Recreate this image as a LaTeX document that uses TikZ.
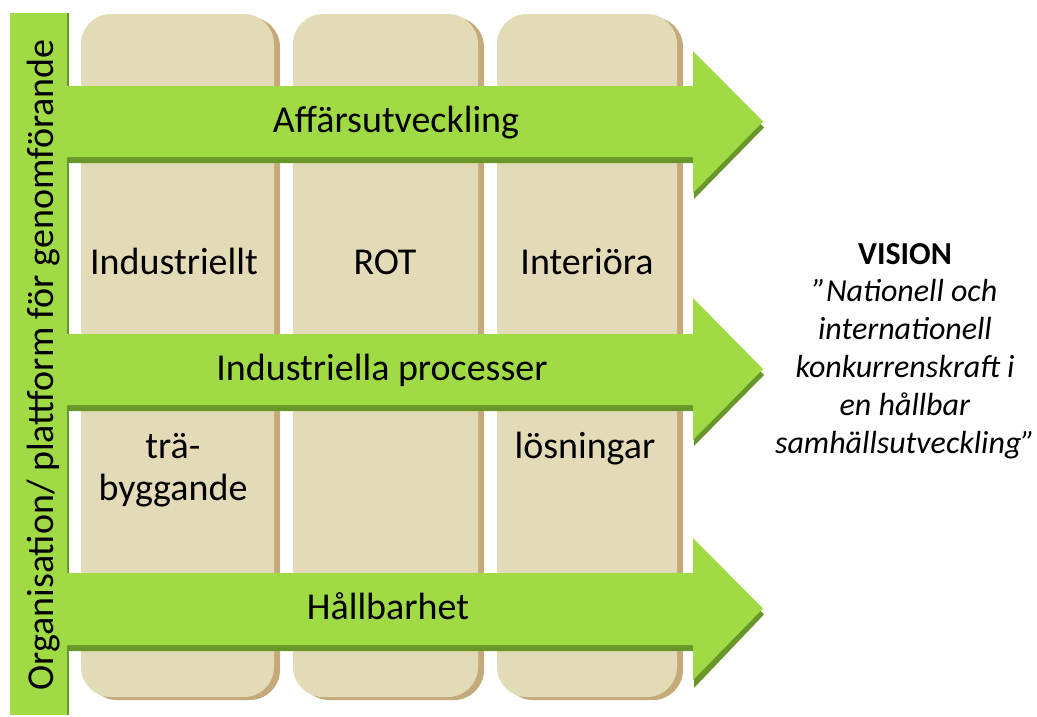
\documentclass[tikz,border=0pt]{standalone}
\usepackage{fontspec}
\setmainfont{Carlito}
\usepackage{tikz}
\definecolor{leaf}{RGB}{160,219,70}
\definecolor{leafdark}{RGB}{104,150,40}
\definecolor{sand}{RGB}{227,219,183}
\definecolor{sanddark}{RGB}{196,170,122}
\tikzset{column/.style = {fill=sand, rounded corners=30pt, minimum height=683pt, inner sep=0pt}}
\tikzset{columnshadow/.style = {fill=sanddark, rounded corners=30pt, minimum height=683pt, inner sep=0pt}}
\tikzset{arrowbody/.style = {fill=leaf}}
\tikzset{arrowshadow/.style = {fill=leafdark}}
\tikzset{label/.style = {font=\fontsize{38}{39}\selectfont, inner sep=0pt, align=center, anchor=base}}

\begin{document}
\begin{tikzpicture}[x=1pt, y=-1pt]
\useasboundingbox (0,0) rectangle (1037,716);
% columns
\node[columnshadow, minimum width=193pt] (s1) at (183.5,358.5) {};
\node[columnshadow, minimum width=185pt] (s2) at (391.5,358.5) {};
\node[columnshadow, minimum width=180pt] (s3) at (593,358.5) {};
\node[column, minimum width=193pt] (c1) at (177.5,355.5) {};
\node[column, minimum width=185pt] (c2) at (385.5,355.5) {};
\node[column, minimum width=180pt] (c3) at (587,355.5) {};

% column texts
\node[label] (ind) at (174,274) {Industriellt};
\node[label] (rot) at (385,274) {ROT};
\node[label] (int) at (587,274) {Interiöra};
\node[label, font=\fontsize{38}{42}\selectfont] (tra) at (173,500) {trä-\\byggande};
\node[label] (los) at (585,458) {lösningar};

% side bar
\fill[leafdark] (12,13) rectangle (69,715);
\fill[leaf] (10,13) rectangle (67,715);
\node[label, rotate=90] (org) at (53,365) {Organisation/ plattform för genomförande};

% arrows
\fill[arrowshadow] (67,92) -- (694,92) -- (694,57) -- (764,127.5) -- (694,199) -- (694,163) -- (67,163) -- cycle;
\fill[arrowbody] (67,86) -- (693,86) -- (693,51) -- (763,121.5) -- (693,193) -- (693,157) -- (67,157) -- cycle;
\fill[arrowshadow] (67,340) -- (694,340) -- (694,304) -- (764,375) -- (694,446) -- (694,411) -- (67,411) -- cycle;
\fill[arrowbody] (67,334) -- (693,334) -- (693,298) -- (763,369) -- (693,440) -- (693,405) -- (67,405) -- cycle;
\fill[arrowshadow] (67,579) -- (694,579) -- (694,544) -- (764,614.5) -- (694,688) -- (694,651) -- (67,651) -- cycle;
\fill[arrowbody] (67,573) -- (693,573) -- (693,538) -- (763,608.5) -- (693,680) -- (693,645) -- (67,645) -- cycle;

% arrow texts
\node[label] (aff) at (396,132) {Affärsutveckling};
\node[label] (proc) at (382,380) {Industriella processer};
\node[label] (hall) at (388,619) {Hållbarhet};

% vision
\node[label, font=\fontsize{32}{37.8}\selectfont] (vision) at (905,453) {\textbf{VISION}\\\textit{”Nationell och}\\\textit{internationell}\\\textit{konkurrenskraft i}\\\textit{en hållbar}\\\textit{samhällsutveckling”}};
\end{tikzpicture}
\end{document}
